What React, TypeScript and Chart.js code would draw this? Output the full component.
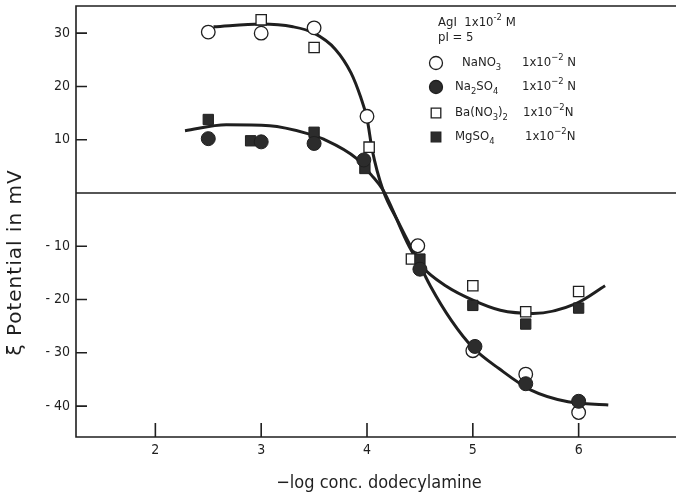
import React, { useEffect, useRef } from 'react';
import { Chart, registerables } from 'chart.js';

Chart.register(...registerables);

const INK = '#1f1f1f';
const DARK = '#2c2c2c';
const FONT = '"DejaVu Sans Condensed", "DejaVu Sans", sans-serif';
const FONT_WIDE = '"DejaVu Sans", sans-serif';

// Measured points (x = -log conc. dodecylamine, y = zeta potential in mV)
const naNO3X = [2.5, 3, 3.5, 4, 4.48, 5, 5.5, 6];
const naNO3Y = [30.2, 30.0, 31.0, 14.4, -9.9, -29.6, -34.0, -41.2];

const na2SO4X = [2.5, 3, 3.5, 3.97, 4.5, 5.02, 5.5, 6];
const na2SO4Y = [10.2, 9.6, 9.3, 6.2, -14.3, -28.8, -35.8, -39.1];

const baNO3X = [3, 3.5, 4.02, 4.42, 5, 5.5, 6];
const baNO3Y = [32.5, 27.3, 8.6, -12.4, -17.4, -22.3, -18.5];

const mgSO4X = [2.5, 2.9, 3.5, 3.98, 4.5, 5, 5.5, 6];
const mgSO4Y = [13.8, 9.8, 11.4, 4.6, -12.4, -21.1, -24.6, -21.6];

// Hand-drawn curves
const curveAX = [2.55, 3.0, 3.3, 3.5, 3.7, 3.85, 3.94, 4.0, 4.05, 4.15, 4.3, 4.45, 4.6, 4.8, 5.0, 5.25, 5.55, 5.9, 6.28];
const curveAY = [31.2, 31.7, 31.2, 30.0, 27.0, 22.5, 18.0, 14.0, 8.0, 0.6, -5.6, -11.5, -17.5, -24.0, -29.0, -33.0, -37.0, -39.2, -39.8];

const curveBX = [2.28, 2.67, 3.08, 3.43, 3.59, 3.9, 4.04, 4.15, 4.4, 4.52, 4.75, 5.0, 5.26, 5.57, 5.98, 6.25];
const curveBY = [11.7, 12.8, 12.6, 11.2, 10.1, 6.5, 3.4, 0.6, -10.1, -13.8, -17.5, -20.1, -22.0, -22.6, -20.7, -17.4];

const xTicks = [2, 3, 4, 5, 6];
const yTicks = [30, 20, 10, -10, -20, -30, -40];

const X_MIN = 1.25;
const X_MAX = 6.92;
const Y_MIN = -45.8;
const Y_MAX = 35.1;

const xTitle = '\u2212log conc. dodecylamine';
const yTitle = '\u03BE Potential in mV';

type Seg = [string, number]; // 0 normal, 1 subscript, 2 superscript

const legendHeader1: Seg[] = [['AgI  1x10', 0], ['-2', 2], [' M', 0]];
const legendHeader2: Seg[] = [['pI = 5', 0]];
const legendNames: Seg[][] = [
  [['NaNO', 0], ['3', 1]],
  [['Na', 0], ['2', 1], ['SO', 0], ['4', 1]],
  [['Ba(NO', 0], ['3', 1], [')', 0], ['2', 1]],
  [['MgSO', 0], ['4', 1]],
];
const legendConc: Seg[][] = [
  [['1x10', 0], ['\u22122', 2], [' N', 0]],
  [['1x10', 0], ['\u22122', 2], [' N', 0]],
  [['1x10', 0], ['\u22122', 2], ['N', 0]],
  [['1x10', 0], ['\u22122', 2], ['N', 0]],
];
const legendMarkers = ['openCircle', 'filledCircle', 'openSquare', 'filledSquare'];

function pts(xs: number[], ys: number[]) {
  return xs.map((x, i) => ({ x, y: ys[i] }));
}

function drawRich(ctx: CanvasRenderingContext2D, x: number, y: number, segs: Seg[], size: number) {
  let cx = x;
  for (const [t, m] of segs) {
    const s = m === 0 ? size : size * 0.72;
    ctx.font = `${s}px ${FONT}`;
    const dy = m === 1 ? size * 0.32 : m === 2 ? -size * 0.38 : 0;
    ctx.fillText(t, cx, y + dy);
    cx += ctx.measureText(t).width;
  }
}

function drawMarker(ctx: CanvasRenderingContext2D, kind: string, x: number, y: number) {
  ctx.save();
  ctx.lineWidth = 1.3;
  ctx.strokeStyle = INK;
  ctx.beginPath();
  if (kind.endsWith('Circle')) {
    ctx.arc(x, y, 6.5, 0, Math.PI * 2);
  } else {
    ctx.rect(x - 4.8, y - 4.8, 9.6, 9.6);
  }
  ctx.fillStyle = kind.startsWith('filled') ? DARK : '#ffffff';
  ctx.fill();
  ctx.stroke();
  ctx.restore();
}

const framePlugin = {
  id: 'frame',
  beforeDatasetsDraw(chart: any) {
    const { ctx, chartArea: a, scales } = chart;
    const xs = scales.x;
    const ys = scales.y;
    ctx.save();
    ctx.strokeStyle = INK;
    ctx.lineWidth = 1.6;
    ctx.beginPath();
    // frame: top, left, bottom
    ctx.moveTo(a.right, a.top);
    ctx.lineTo(a.left, a.top);
    ctx.lineTo(a.left, a.bottom);
    ctx.lineTo(a.right, a.bottom);
    // zero line
    const y0 = ys.getPixelForValue(0);
    ctx.moveTo(a.left, y0);
    ctx.lineTo(a.right, y0);
    // inner ticks
    for (const v of yTicks) {
      const p = ys.getPixelForValue(v);
      ctx.moveTo(a.left, p);
      ctx.lineTo(a.left + 11, p);
    }
    for (const v of xTicks) {
      const p = xs.getPixelForValue(v);
      ctx.moveTo(p, a.bottom);
      ctx.lineTo(p, a.bottom - 14);
    }
    ctx.stroke();
    ctx.restore();
  },
  afterDraw(chart: any) {
    const { ctx } = chart;
    ctx.save();
    ctx.fillStyle = INK;
    ctx.textBaseline = 'middle';
    ctx.textAlign = 'left';

    // x title
    ctx.font = `18px ${FONT}`;
    ctx.textAlign = 'center';
    ctx.fillText(xTitle, 379, 483);

    // y title (rotated)
    ctx.save();
    ctx.translate(16, 263);
    ctx.rotate(-Math.PI / 2);
    ctx.font = `20px ${FONT_WIDE}`;
    (ctx as any).letterSpacing = '1px';
    ctx.textAlign = 'center';
    ctx.fillText(yTitle, 0.5, 0);
    (ctx as any).letterSpacing = '0px';
    ctx.restore();

    // legend
    ctx.textAlign = 'left';
    drawRich(ctx, 438, 23, legendHeader1, 13);
    drawRich(ctx, 438, 38, legendHeader2, 13);
    const rowY = [63, 87, 113, 137];
    const nameX = [462, 455, 455, 455];
    const concX = [522, 522, 523, 525];
    for (let i = 0; i < 4; i++) {
      drawMarker(ctx, legendMarkers[i], 436, rowY[i]);
      ctx.fillStyle = INK;
      drawRich(ctx, nameX[i], rowY[i], legendNames[i], 13);
      drawRich(ctx, concX[i], rowY[i], legendConc[i], 13);
    }
    ctx.restore();
  },
};

export default function App() {
  const ref = useRef<HTMLCanvasElement | null>(null);

  useEffect(() => {
    if (!ref.current) return;
    const chart = new Chart(ref.current, {
      type: 'scatter',
      data: {
        datasets: [
          {
            label: 'Na2SO4',
            data: pts(na2SO4X, na2SO4Y),
            pointStyle: 'circle',
            pointRadius: 7,
            backgroundColor: DARK,
            borderColor: INK,
            borderWidth: 1,
          },
          {
            label: 'MgSO4',
            data: pts(mgSO4X, mgSO4Y),
            pointStyle: 'rect',
            pointRadius: 7.3,
            backgroundColor: DARK,
            borderColor: INK,
            borderWidth: 1,
          },
          {
            label: 'Ba(NO3)2',
            data: pts(baNO3X, baNO3Y),
            pointStyle: 'rect',
            pointRadius: 7.3,
            backgroundColor: '#ffffff',
            borderColor: INK,
            borderWidth: 1.3,
          },
          {
            label: 'NaNO3',
            data: pts(naNO3X, naNO3Y),
            pointStyle: 'circle',
            pointRadius: 6.8,
            backgroundColor: '#ffffff',
            borderColor: INK,
            borderWidth: 1.3,
          },
          {
            label: 'curve A',
            data: pts(curveAX, curveAY),
            showLine: true,
            pointRadius: 0,
            borderColor: INK,
            borderWidth: 3,
            cubicInterpolationMode: 'monotone',
          },
          {
            label: 'curve B',
            data: pts(curveBX, curveBY),
            showLine: true,
            pointRadius: 0,
            borderColor: INK,
            borderWidth: 3,
            cubicInterpolationMode: 'monotone',
          },
        ] as any,
      },
      options: {
        responsive: false,
        animation: false,
        devicePixelRatio: 1,
        layout: { autoPadding: false, padding: { top: 6, left: 0, right: 0, bottom: 0 } },
        plugins: { legend: { display: false }, tooltip: { enabled: false } },
        scales: {
          x: {
            type: 'linear',
            min: X_MIN,
            max: X_MAX,
            afterFit: (s: any) => {
              s.height = 58;
              s.paddingLeft = 0;
              s.paddingRight = 0;
            },
            grid: { display: false, drawTicks: false },
            border: { display: false },
            ticks: {
              stepSize: 1,
              includeBounds: false,
              padding: 5,
              color: INK,
              font: { family: FONT, size: 14 },
              callback: (v: any) => (xTicks.includes(Number(v)) ? String(v) : ''),
            },
          },
          y: {
            type: 'linear',
            min: Y_MIN,
            max: Y_MAX,
            afterFit: (s: any) => {
              s.width = 76;
              s.paddingTop = 0;
              s.paddingBottom = 0;
            },
            grid: { display: false, drawTicks: false },
            border: { display: false },
            ticks: {
              stepSize: 10,
              includeBounds: false,
              padding: 6,
              color: INK,
              font: { family: FONT, size: 14 },
              callback: (v: any) => {
                const n = Number(v);
                if (!yTicks.includes(n)) return '';
                return n < 0 ? '- ' + Math.abs(n) : String(n);
              },
            },
          },
        },
      },
      plugins: [framePlugin],
    });
    return () => chart.destroy();
  }, []);

  return (
    <div style={{ position: 'fixed', left: 0, top: 0, width: 676, height: 495, background: '#ffffff' }}>
      <canvas ref={ref} width={676} height={495} style={{ display: 'block' }} />
    </div>
  );
}
